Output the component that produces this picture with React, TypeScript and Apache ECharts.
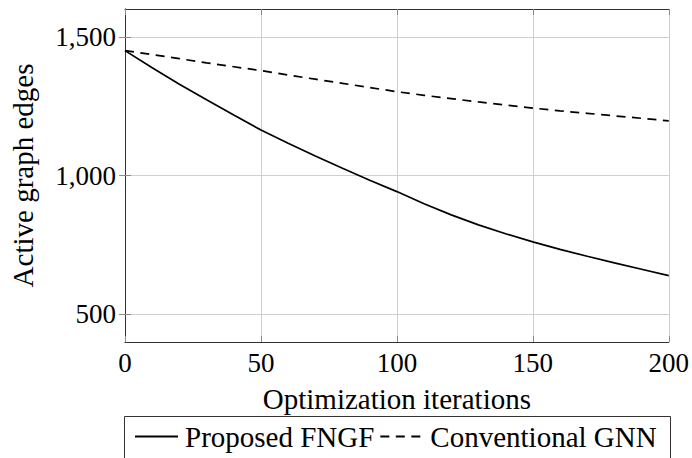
import React, { useEffect, useRef } from "react";
import * as echarts from "echarts";

const iterations = [0, 10, 20, 30, 40, 50, 60, 70, 80, 90, 100, 110, 120, 130, 140, 150, 160, 170, 180, 190, 200];
const fngfEdges = [1450, 1388, 1329, 1273, 1218, 1164, 1116, 1070, 1026, 983, 942, 898, 858, 822, 790, 761, 734, 709, 685, 662, 639];
const gnnEdges = [1450, 1436, 1421, 1406, 1392, 1378, 1362, 1347, 1332, 1317, 1302, 1289, 1277, 1265, 1254, 1243, 1233, 1224, 1215, 1206, 1197];
const seriesNames = ["Proposed FNGF", "Conventional GNN"];
const xTicks = [0, 50, 100, 150, 200];
const yTicks = [500, 1000, 1500];
const xName = "Optimization iterations";
const yName = "Active graph edges";

const FONT = "Liberation Serif";

export default function App() {
  const ref = useRef<HTMLDivElement>(null);
  useEffect(() => {
    if (!ref.current) return;
    const chart = echarts.init(ref.current, null, { renderer: "svg" });
    const fmt = (v: number) => v.toLocaleString("en-US");
    const tickStyle = { show: true, inside: true, length: 6, lineStyle: { color: "#8a8a8a", width: 1 } };
    const frameLine = { show: true, lineStyle: { color: "#333", width: 1 } };
    chart.setOption({
      animation: false,
      backgroundColor: "#fff",
      textStyle: { fontFamily: FONT },
      grid: { left: 124, top: 9, width: 546, height: 333, containLabel: false },
      xAxis: [
        {
          type: "value",
          min: 0,
          max: 200,
          interval: 50,
          name: xName,
          nameLocation: "middle",
          nameGap: 42,
          nameTextStyle: { fontFamily: FONT, fontSize: 29, color: "#000" },
          axisLine: frameLine,
          axisTick: { ...tickStyle, customValues: xTicks },
          axisLabel: { fontFamily: FONT, fontSize: 27, color: "#000", margin: 7, customValues: xTicks },
          splitLine: { show: true, lineStyle: { color: "#cfcfcf", width: 1 } },
        },
        {
          type: "value",
          position: "top",
          min: 0,
          max: 200,
          interval: 50,
          axisLine: frameLine,
          axisTick: { ...tickStyle, customValues: xTicks },
          axisLabel: { show: false },
          splitLine: { show: false },
        },
      ],
      yAxis: [
        {
          type: "value",
          min: 400,
          max: 1600,
          name: yName,
          nameLocation: "middle",
          nameGap: 88,
          nameRotate: 90,
          nameTextStyle: { fontFamily: FONT, fontSize: 29, color: "#000" },
          axisLine: frameLine,
          axisTick: { ...tickStyle, customValues: yTicks },
          axisLabel: { fontFamily: FONT, fontSize: 27, color: "#000", margin: 9, customValues: yTicks, formatter: fmt },
          splitLine: { show: true, lineStyle: { color: "#cfcfcf", width: 1 } },
        },
        {
          type: "value",
          position: "right",
          min: 400,
          max: 1600,
          axisLine: frameLine,
          axisTick: { ...tickStyle, customValues: yTicks },
          axisLabel: { show: false, customValues: yTicks },
          splitLine: { show: false },
        },
      ],
      legend: {
        data: seriesNames,
        left: 134,
        top: 422,
        padding: 0,
        itemWidth: 43,
        itemHeight: 14,
        itemGap: 5,
        itemStyle: { opacity: 0 },
        textStyle: { fontFamily: FONT, fontSize: 29, color: "#000", padding: [0, 0, 0, 2] },
      },
      graphic: [
        {
          type: "rect",
          shape: { x: 124.5, y: 416.5, width: 546, height: 80 },
          style: { fill: "none", stroke: "#333", lineWidth: 1 },
          silent: true,
        },
      ],
      series: [
        {
          name: seriesNames[0],
          type: "line",
          data: iterations.map((x, i) => [x, fngfEdges[i]]),
          symbol: "none",
          lineStyle: { color: "#000", width: 1.7, type: "solid" },
          itemStyle: { color: "#000" },
        },
        {
          name: seriesNames[1],
          type: "line",
          data: iterations.map((x, i) => [x, gnnEdges[i]]),
          symbol: "none",
          lineStyle: { color: "#000", width: 1.7, type: [9, 6.5] },
          itemStyle: { color: "#000" },
        },
      ],
    });
    return () => chart.dispose();
  }, []);
  return <div ref={ref} style={{ width: 692, height: 458, position: "absolute", left: 0, top: 0 }} />;
}
